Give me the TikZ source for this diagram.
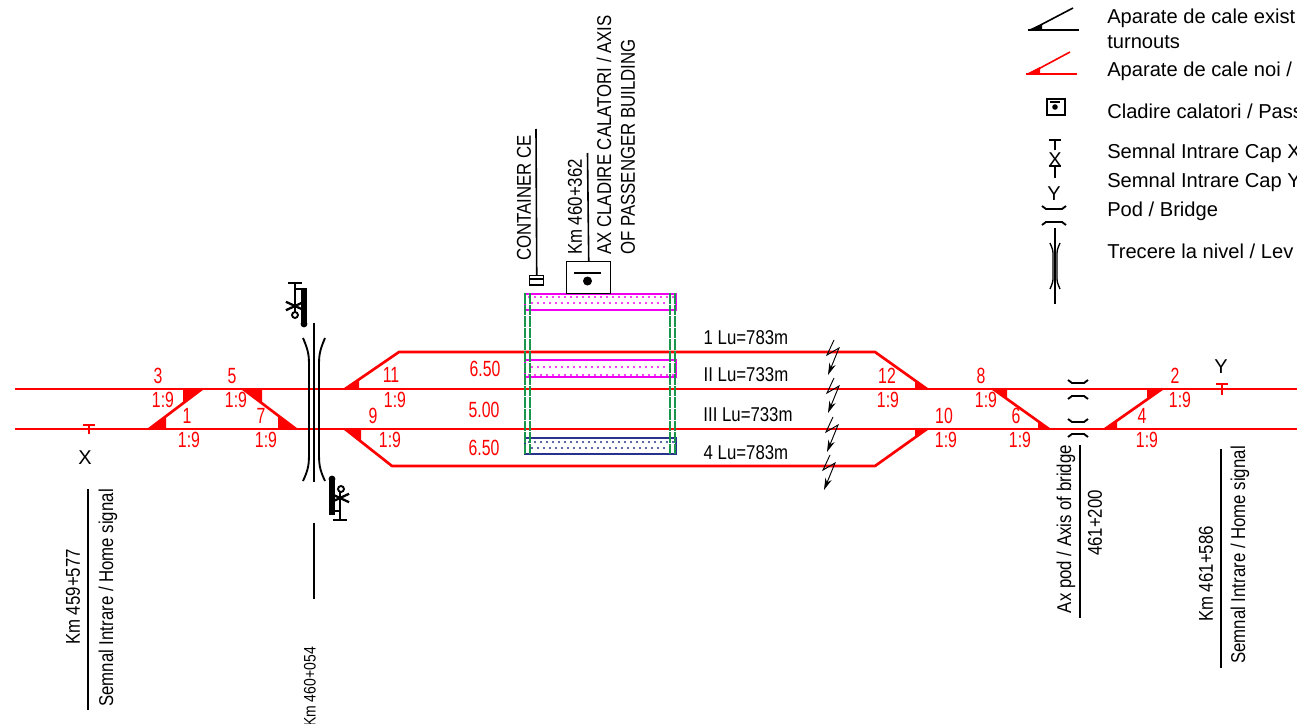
\documentclass[tikz,border=0pt]{standalone}
\usepackage{fontspec}
\setmainfont{Liberation Sans}
\newfontfamily\narrowfont[FakeStretch=0.84]{Liberation Sans}
\newfontfamily\slimfont[FakeStretch=0.72]{Liberation Sans}
\usetikzlibrary{arrows.meta}
\definecolor{trackred}{RGB}{255,0,0}
\definecolor{platmag}{RGB}{240,0,240}
\definecolor{platnavy}{RGB}{40,50,140}
\definecolor{platgreen}{RGB}{25,150,75}

\begin{document}
\begin{tikzpicture}[
                            x=0.75pt,
                            y=-0.75pt,
                            inner sep=0pt,
                            font=\fontsize{15}{18}\selectfont
                        ]
                        \tikzstyle{track}=[draw=trackred,line width=2pt]
                        \tikzstyle{wedge}=[fill=trackred]
                        \tikzstyle{redlabel}=[text=trackred,font=\fontsize{16.5}{18}\slimfont]
                        \tikzstyle{blacklabel}=[text=black,font=\fontsize{15}{18}\narrowfont]
                        \tikzstyle{upright}=[blacklabel,rotate=90]
                        \tikzstyle{legendtext}=[anchor=west,text=black,font=\fontsize{15.1}{18}\selectfont]
                        \tikzstyle{leader}=[draw=black,line width=1.2pt]
                        \tikzstyle{thickline}=[draw=black,line width=1.4pt]
                        \tikzstyle{greendash}=[draw=platgreen,line width=1.5pt,dash pattern=on 8pt off 0.7pt]
                        \tikzstyle{platform}=[line width=1.6pt]

                        \useasboundingbox (0,0) rectangle (1297,724);

                        % tracks
                        \coordinate (L1) at (15,389);   \coordinate (R1) at (1297,389);
                        \coordinate (L2) at (15,429);   \coordinate (R2) at (1297,429);
                        \coordinate (A) at (345,389);   \coordinate (B) at (399,352);
                        \coordinate (C) at (875,352);   \coordinate (D) at (927,389);
                        \coordinate (E) at (345,429);   \coordinate (F) at (392,466);
                        \coordinate (G) at (875,466);   \coordinate (H) at (927,429);
                        \coordinate (S1) at (149,429);  \coordinate (S3) at (202,389);
                        \coordinate (S5) at (243,389);  \coordinate (S7) at (296,429);
                        \coordinate (S8) at (993,389);  \coordinate (S6) at (1049,429);
                        \coordinate (S4) at (1105,429); \coordinate (S2) at (1162,389);

                        \path
                        (L1) edge [track] (R1)
                        (L2) edge [track] (R2)
                        (S1) edge [track] (S3)
                        (S5) edge [track] (S7)
                        (S8) edge [track] (S6)
                        (S4) edge [track] (S2)
                        ;
                        \draw[track,line join=round] (A) -- (B) -- (C) -- (D);
                        \draw[track,line join=round] (E) -- (F) -- (G) -- (H);

                        % turnout wedges
                        \fill[wedge] (S1) -- (166,429) -- (166,417) -- cycle;
                        \fill[wedge] (S3) -- (183,389) -- (183,403) -- cycle;
                        \fill[wedge] (S5) -- (262,389) -- (262,403) -- cycle;
                        \fill[wedge] (S7) -- (278,429) -- (278,416) -- cycle;
                        \fill[wedge] (A) -- (359,389) -- (359,379) -- cycle;
                        \fill[wedge] (E) -- (361,429) -- (361,442) -- cycle;
                        \fill[wedge] (D) -- (915,389) -- (915,380) -- cycle;
                        \fill[wedge] (H) -- (915,429) -- (915,438) -- cycle;
                        \fill[wedge] (S8) -- (1007,389) -- (1007,399) -- cycle;
                        \fill[wedge] (S6) -- (1038,429) -- (1038,421) -- cycle;
                        \fill[wedge] (S4) -- (1117,429) -- (1117,421) -- cycle;
                        \fill[wedge] (S2) -- (1147,389) -- (1147,399) -- cycle;

                        % platforms
                        \draw[platform,draw=platmag] (525,294) rectangle (676,310);
                        \draw[platform,draw=platmag] (525,360) rectangle (676,377);
                        \draw[platform,draw=platnavy] (525,438) rectangle (676,454);
                        \foreach \x in {0,...,24} {
                            \fill[platmag] (529+6*\x,297) circle (1.1);
                            \fill[platmag] (532+6*\x,303) circle (1.1);
                            \fill[platmag] (532+6*\x,367) circle (1.1);
                            \fill[platmag] (529+6*\x,375) circle (1.1);
                            \fill[platnavy] (529+6*\x,442) circle (1.1);
                            \fill[platnavy] (532+6*\x,448) circle (1.1);
                        }
                        \foreach \x in {525,530,670,675} {
                            \draw[greendash] (\x,293) -- (\x,455);
                        }

                        % passenger building and container
                        \node[draw=black,line width=1.1pt,minimum width=33pt,minimum height=24pt,anchor=north west] (cladire) at (566,261) {};
                        \draw[leader] (574,273) -- (601,273);
                        \fill[black] (587.5,281) circle (4.5);
                        \coordinate (axtop) at (587.5,153);
                        \path (cladire.north) edge [leader] (axtop);
                        \node[draw=black,line width=1.1pt,minimum width=10.5pt,minimum height=7pt,anchor=north west] (container) at (529,275) {};
                        \draw[leader] (529,279) -- (543,279);
                        \coordinate (contop) at (536,129);
                        \path (container.north) edge [leader] (contop);

                        % level crossing
                        \coordinate (X1) at (314,323);  \coordinate (X2) at (314,482);
                        \coordinate (X3) at (314,523);  \coordinate (X4) at (314,599);
                        \path
                        (X1) edge [thickline] (X2)
                        (X3) edge [thickline] (X4)
                        ;
                        \draw[thickline] (303,338) .. controls (309,352) and (309,356) .. (309,368) -- (309,450) .. controls (309,464) and (309,468) .. (303,481);
                        \draw[thickline] (325,338) .. controls (319,352) and (319,356) .. (319,368) -- (319,450) .. controls (319,464) and (319,468) .. (325,481);

                        % crossing signals
                        \draw[thickline] (288,283) -- (302,283);
                        \draw[thickline] (295,283) -- (295,300);
                        \draw[thickline] (295,289) -- (304,289);
                        \draw[black,line width=4pt] (304,288) -- (304,323);
                        \fill[black] (304,324) circle (3.4);
                        \foreach \a in {25,90,155} {
                            \draw[black,line width=1.7pt] (295,306) ++(\a:10) -- ++(\a+180:20);
                        }
                        \draw[thickline,fill=white] (295,315) circle (3);
                        \draw[thickline] (340,505) -- (340,520);
                        \draw[thickline] (333,520) -- (347,520);
                        \draw[thickline] (332,511) -- (340,511);
                        \draw[black,line width=4pt] (332,480) -- (332,515);
                        \fill[black] (332,479) circle (3.4);
                        \foreach \a in {25,90,155} {
                            \draw[black,line width=1.7pt] (340,498) ++(\a:10) -- ++(\a+180:20);
                        }
                        \draw[thickline,fill=white] (341,489) circle (3);

                        % overhead line section marks
                        \foreach \dx/\dy in {0/0,0/38,-1/77,-4/115} {
                            \draw[black,line width=0.7pt,-{Stealth[length=9pt,width=5pt]}]
                                (834+\dx,340+\dy) -- (827+\dx,355+\dy) -- (839+\dx,348+\dy) -- (828+\dx,375+\dy);
                        }

                        % bridge
                        \foreach \y in {382,421} {
                            \draw[thickline] (1068,\y-2) -- (1072,\y+1) -- (1084,\y+1) -- (1088,\y-2);
                        }
                        \foreach \y in {397,435} {
                            \draw[thickline] (1068,\y+2) -- (1072,\y-1) -- (1084,\y-1) -- (1088,\y+2);
                        }

                        % home signals
                        \draw[draw=trackred,line width=1.3pt] (83,425) -- (95,425);
                        \draw[draw=trackred,line width=1.3pt] (89,425) -- (89,434);
                        \draw[draw=trackred,line width=1.6pt] (1216,384) -- (1228,384);
                        \draw[draw=trackred,line width=1.6pt] (1222,384) -- (1222,395);

                        % km leaders
                        \coordinate (K1a) at (88,489);     \coordinate (K1b) at (88,710);
                        \coordinate (K2a) at (1080,445);   \coordinate (K2b) at (1080,618);
                        \coordinate (K3a) at (1221,449);   \coordinate (K3b) at (1221,668);
                        \path
                        (K1a) edge [leader] (K1b)
                        (K2a) edge [leader] (K2b)
                        (K3a) edge [leader] (K3b)
                        ;

                        % track labels
                        \node[redlabel] (n3)  at (158,376)  {3};
                        \node[redlabel] (n5)  at (232,376)  {5};
                        \node[redlabel] (n11) at (391,375)  {11};
                        \node[redlabel] (n12) at (887,376)  {12};
                        \node[redlabel] (n8)  at (981,376)  {8};
                        \node[redlabel] (n2)  at (1175,376) {2};
                        \node[redlabel] (n1)  at (187,416)  {1};
                        \node[redlabel] (n7)  at (261,416)  {7};
                        \node[redlabel] (n9)  at (373,416)  {9};
                        \node[redlabel] (n10) at (944,416)  {10};
                        \node[redlabel] (n6)  at (1016,416) {6};
                        \node[redlabel] (n4)  at (1142,416) {4};
                        \node[redlabel] (r3)  at (163,400)  {1:9};
                        \node[redlabel] (r5)  at (236,400)  {1:9};
                        \node[redlabel] (r11) at (395,400)  {1:9};
                        \node[redlabel] (r12) at (888,400)  {1:9};
                        \node[redlabel] (r8)  at (986,400)  {1:9};
                        \node[redlabel] (r2)  at (1180,400) {1:9};
                        \node[redlabel] (r1)  at (189,440)  {1:9};
                        \node[redlabel] (r7)  at (266,440)  {1:9};
                        \node[redlabel] (r9)  at (390,440)  {1:9};
                        \node[redlabel] (r10) at (946,440)  {1:9};
                        \node[redlabel] (r6)  at (1020,440) {1:9};
                        \node[redlabel] (r4)  at (1147,440) {1:9};
                        \node[redlabel] (w1)  at (485,369)  {6.50};
                        \node[redlabel] (w2)  at (484,410)  {5.00};
                        \node[redlabel] (w3)  at (484,448)  {6.50};
                        \node[blacklabel] (lu1) at (746,338) {1 Lu=783m};
                        \node[blacklabel] (lu2) at (746,375) {II Lu=733m};
                        \node[blacklabel] (lu3) at (748,415) {III Lu=733m};
                        \node[blacklabel] (lu4) at (746,453) {4 Lu=783m};
                        \node (capx) at (85,458)   {X};
                        \node (capy) at (1221,367) {Y};

                        % rotated labels
                        \node[upright] (km1)  at (73,597)   {Km 459+577};
                        \node[upright] (sem1) at (108,598)  {Semnal Intrare / Home signal};
                        \node[upright,font=\fontsize{12.5}{15}\narrowfont] (km2) at (310,687) {Km 460+054};
                        \node[upright] (cont) at (524,198)  {CONTAINER CE};
                        \node[upright] (km3)  at (575,207)  {Km 460+362};
                        \node[upright] (ax1)  at (604,135)  {AX CLADIRE CALATORI / AXIS};
                        \node[upright] (ax2)  at (628,147)  {OF PASSENGER BUILDING};
                        \node[upright] (pod1) at (1066,529) {Ax pod / Axis of bridge};
                        \node[upright] (pod2) at (1095,523) {461+200};
                        \node[upright] (km4)  at (1206,574) {Km 461+586};
                        \node[upright] (sem2) at (1240,555) {Semnal Intrare / Home signal};

                        % legend symbols
                        \draw[black,line width=1.2pt] (1028,30) -- (1079,30);
                        \draw[black,line width=1.2pt] (1031,30) -- (1073,8);
                        \fill[black] (1028,30) -- (1042,30) -- (1042,24) -- cycle;
                        \draw[trackred,line width=1.2pt] (1026,74) -- (1077,74);
                        \draw[trackred,line width=1.2pt] (1029,74) -- (1070,52);
                        \fill[trackred] (1026,74) -- (1040,74) -- (1040,67) -- cycle;
                        \node[draw=black,line width=1.5pt,minimum width=13.5pt,minimum height=12pt,anchor=north west] (legcladire) at (1046,98) {};
                        \draw[black,line width=1pt] (1050,102) -- (1060,102);
                        \fill[black] (1055,107) circle (2.8);
                        \draw[thickline] (1049,140) -- (1061,140);
                        \draw[thickline] (1055,140) -- (1055,150);
                        \node (legx) at (1055,160) {X};
                        \draw[thickline] (1049,166) -- (1061,166);
                        \draw[thickline] (1055,166) -- (1055,178);
                        \node (legy) at (1054,194) {Y};
                        \draw[thickline] (1042,206) -- (1046,209) -- (1062,209) -- (1066,206);
                        \draw[thickline] (1042,225) -- (1046,222) -- (1062,222) -- (1066,225);
                        \draw[thickline] (1055,228) -- (1055,304);
                        \draw[black,line width=1pt] (1050,243) .. controls (1053,250) .. (1053,256) -- (1053,276) .. controls (1053,282) .. (1050,289);
                        \draw[black,line width=1pt] (1060,243) .. controls (1057,250) .. (1057,256) -- (1057,276) .. controls (1057,282) .. (1060,289);

                        % legend texts
                        \node[legendtext] (t1) at (1107,18)  {Aparate de cale exist};
                        \node[legendtext] (t2) at (1107,42)  {turnouts};
                        \node[legendtext] (t3) at (1107,71)  {Aparate de cale noi /};
                        \node[legendtext] (t4) at (1107,111) {Cladire calatori / Pass};
                        \node[legendtext] (t5) at (1107,153) {Semnal Intrare Cap X};
                        \node[legendtext] (t6) at (1107,182) {Semnal Intrare Cap Y};
                        \node[legendtext] (t7) at (1107,211) {Pod / Bridge};
                        \node[legendtext] (t8) at (1107,251) {Trecere la nivel / Lev};
                    \end{tikzpicture}
\end{document}
